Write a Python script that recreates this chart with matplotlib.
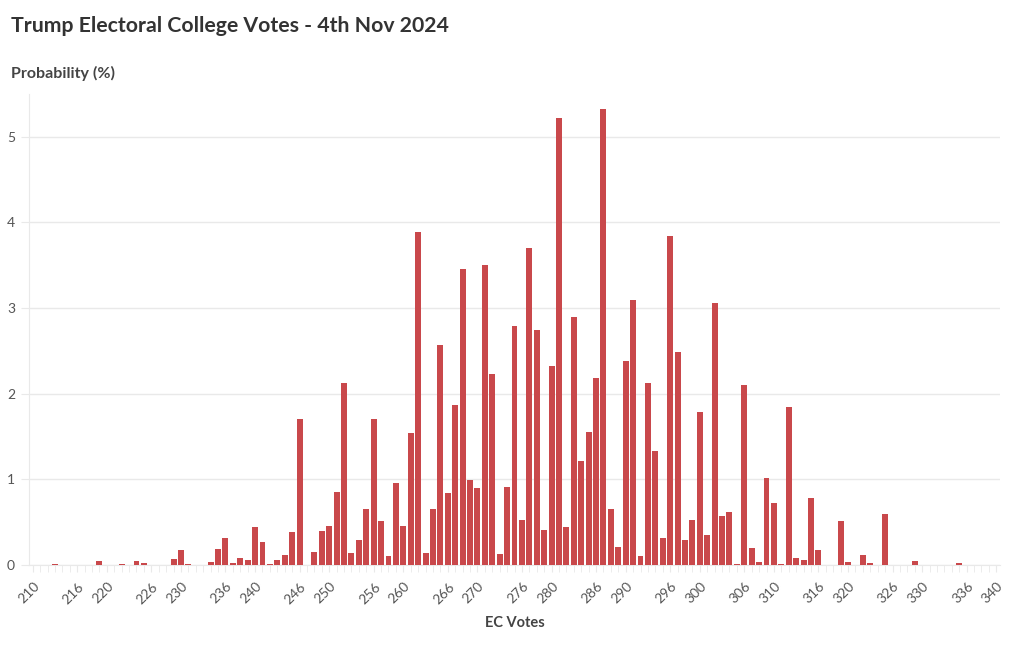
import matplotlib
matplotlib.use("Agg")
import matplotlib.pyplot as plt
import matplotlib.transforms as mtransforms
import numpy as np

# ---- data ----
ec_votes = list(range(210, 341))
prob_values = {
    213: 0.01, 219: 0.05, 222: 0.01, 224: 0.05, 225: 0.02,
    229: 0.07, 230: 0.175, 231: 0.01,
    234: 0.03, 235: 0.19, 236: 0.31, 237: 0.02, 238: 0.085, 239: 0.06,
    240: 0.44, 241: 0.27, 242: 0.01, 243: 0.06, 244: 0.12, 245: 0.39,
    246: 1.70, 248: 0.15, 249: 0.40,
    250: 0.46, 251: 0.85, 252: 2.12, 253: 0.14, 254: 0.29, 255: 0.65,
    256: 1.70, 257: 0.51, 258: 0.105, 259: 0.955,
    260: 0.45, 261: 1.54, 262: 3.89, 263: 0.14, 264: 0.655, 265: 2.565,
    266: 0.84, 267: 1.87, 268: 3.46, 269: 0.99,
    270: 0.90, 271: 3.50, 272: 2.23, 273: 0.13, 274: 0.91, 275: 2.79,
    276: 0.53, 277: 3.70, 278: 2.74, 279: 0.41,
    280: 2.32, 281: 5.22, 282: 0.44, 283: 2.90, 284: 1.22, 285: 1.55,
    286: 2.18, 287: 5.33, 288: 0.65, 289: 0.21,
    290: 2.38, 291: 3.09, 292: 0.10, 293: 2.13, 294: 1.33, 295: 0.31,
    296: 3.84, 297: 2.49, 298: 0.29, 299: 0.52,
    300: 1.79, 301: 0.35, 302: 3.06, 303: 0.57, 304: 0.62, 305: 0.01,
    306: 2.10, 307: 0.20, 308: 0.04, 309: 1.02,
    310: 0.725, 311: 0.015, 312: 1.84, 313: 0.08, 314: 0.06, 315: 0.78,
    316: 0.17, 319: 0.51,
    320: 0.04, 322: 0.12, 323: 0.02, 325: 0.59,
    329: 0.05, 335: 0.02,
}
probabilities = [prob_values.get(v, 0.0) for v in ec_votes]
x_tick_labels = [210, 216, 220, 226, 230, 236, 240, 246, 250, 256, 260, 266,
                 270, 276, 280, 286, 290, 296, 300, 306, 310, 316, 320, 326,
                 330, 336, 340]
y_ticks = [0, 1, 2, 3, 4, 5]

# ---- style ----
FONT = "Lato"
plt.rcParams["font.family"] = [FONT, "DejaVu Sans"]
BAR_COLOR = "#c9484b"
GRID = "#e9e9e9"

W, H = 1020, 650
fig = plt.figure(figsize=(W / 100, H / 100), dpi=100)
left, right = 29 / W, 1000 / W
bottom = 1 - 565 / H
top = 1 - 94 / H
ax = fig.add_axes([left, bottom, right - left, top - bottom])

ax.bar(ec_votes, probabilities, width=0.8, color=BAR_COLOR, zorder=3)

ax.set_xlim(209.5, 340.5)
ax.set_ylim(0, 5.5)

ax.set_yticks(y_ticks)
ax.set_yticklabels([str(v) for v in y_ticks])
ax.yaxis.grid(True, color=GRID, linewidth=1, zorder=0)
ax.tick_params(axis="y", length=6, color=GRID, labelsize=10, labelcolor="#555555", pad=4)

ax.set_xticks(x_tick_labels)
ax.set_xticklabels([str(v) for v in x_tick_labels], rotation=45, ha="center")
ax.set_xticks(ec_votes, minor=True)
ax.tick_params(axis="x", which="both", length=5, color=GRID, labelsize=10,
               labelcolor="#555555", pad=6)
offset = mtransforms.ScaledTranslation(-4 / 100, 0, fig.dpi_scale_trans)
for lab in ax.get_xticklabels():
    lab.set_transform(lab.get_transform() + offset)

for s in ["top", "right"]:
    ax.spines[s].set_visible(False)
ax.spines["left"].set_color(GRID)
ax.spines["bottom"].set_color(GRID)
ax.spines["left"].set_zorder(1)

fig.text(11 / W, 1 - 32.5 / H, "Trump Electoral College Votes - 4th Nov 2024",
         fontsize=15.3, fontweight="bold", color="#333333", va="baseline", ha="left")
fig.text(11 / W, 1 - 78 / H, "Probability (%)", fontsize=11.5, fontweight="bold",
         color="#444444", va="baseline", ha="left")
fig.text((29 + 1000) / 2 / W, 1 - 627 / H, "EC Votes", fontsize=10.5, fontweight="bold",
         color="#444444", va="baseline", ha="center")

fig.savefig("out.png", dpi=100)
